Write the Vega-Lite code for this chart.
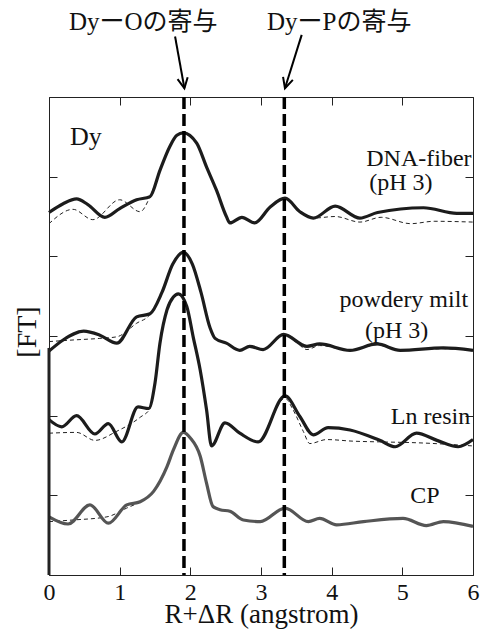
{
  "$schema": "https://vega.github.io/schema/vega-lite/v6.json",
  "width": 424,
  "height": 478,
  "autosize": "none",
  "padding": {"left": 49, "top": 97, "right": 13, "bottom": 56},
  "background": "white",
  "config": {
    "font": "Liberation Serif",
    "view": {"stroke": null},
    "axis": {
      "grid": false,
      "domainColor": "#222",
      "tickColor": "#222",
      "domainWidth": 1,
      "tickWidth": 1,
      "tickSize": -8,
      "labelFont": "Liberation Serif",
      "titleFont": "Liberation Serif",
      "labelColor": "#111",
      "titleColor": "#111",
      "titleFontWeight": "normal"
    }
  },
  "datasets": {
    "curves": [
      {"s": "DNA", "k": "exp", "x": 0.00, "y": 4.55},
      {"s": "DNA", "k": "exp", "x": 0.20, "y": 4.66},
      {"s": "DNA", "k": "exp", "x": 0.39, "y": 4.72},
      {"s": "DNA", "k": "exp", "x": 0.55, "y": 4.65},
      {"s": "DNA", "k": "exp", "x": 0.79, "y": 4.49},
      {"s": "DNA", "k": "exp", "x": 1.00, "y": 4.60},
      {"s": "DNA", "k": "exp", "x": 1.24, "y": 4.71},
      {"s": "DNA", "k": "exp", "x": 1.43, "y": 4.75},
      {"s": "DNA", "k": "exp", "x": 1.57, "y": 5.08},
      {"s": "DNA", "k": "exp", "x": 1.71, "y": 5.38},
      {"s": "DNA", "k": "exp", "x": 1.81, "y": 5.52},
      {"s": "DNA", "k": "exp", "x": 1.90, "y": 5.55},
      {"s": "DNA", "k": "exp", "x": 2.09, "y": 5.42},
      {"s": "DNA", "k": "exp", "x": 2.23, "y": 5.12},
      {"s": "DNA", "k": "exp", "x": 2.37, "y": 4.83},
      {"s": "DNA", "k": "exp", "x": 2.51, "y": 4.50},
      {"s": "DNA", "k": "exp", "x": 2.56, "y": 4.42},
      {"s": "DNA", "k": "exp", "x": 2.73, "y": 4.49},
      {"s": "DNA", "k": "exp", "x": 2.91, "y": 4.42},
      {"s": "DNA", "k": "exp", "x": 3.13, "y": 4.62},
      {"s": "DNA", "k": "exp", "x": 3.34, "y": 4.73},
      {"s": "DNA", "k": "exp", "x": 3.55, "y": 4.56},
      {"s": "DNA", "k": "exp", "x": 3.74, "y": 4.48},
      {"s": "DNA", "k": "exp", "x": 4.05, "y": 4.63},
      {"s": "DNA", "k": "exp", "x": 4.40, "y": 4.48},
      {"s": "DNA", "k": "exp", "x": 4.65, "y": 4.55},
      {"s": "DNA", "k": "exp", "x": 5.30, "y": 4.61},
      {"s": "DNA", "k": "exp", "x": 5.77, "y": 4.54},
      {"s": "DNA", "k": "exp", "x": 6.00, "y": 4.54},

      {"s": "DNA", "k": "fit", "x": 0.00, "y": 4.41},
      {"s": "DNA", "k": "fit", "x": 0.34, "y": 4.59},
      {"s": "DNA", "k": "fit", "x": 0.62, "y": 4.46},
      {"s": "DNA", "k": "fit", "x": 1.00, "y": 4.71},
      {"s": "DNA", "k": "fit", "x": 1.29, "y": 4.56},
      {"s": "DNA", "k": "fit", "x": 1.43, "y": 4.75},
      {"s": "DNA", "k": "fit", "x": 1.57, "y": 5.08},
      {"s": "DNA", "k": "fit", "x": 1.71, "y": 5.38},
      {"s": "DNA", "k": "fit", "x": 1.81, "y": 5.52},
      {"s": "DNA", "k": "fit", "x": 1.90, "y": 5.55},
      {"s": "DNA", "k": "fit", "x": 2.09, "y": 5.42},
      {"s": "DNA", "k": "fit", "x": 2.23, "y": 5.12},
      {"s": "DNA", "k": "fit", "x": 2.37, "y": 4.83},
      {"s": "DNA", "k": "fit", "x": 2.51, "y": 4.50},
      {"s": "DNA", "k": "fit", "x": 2.56, "y": 4.42},
      {"s": "DNA", "k": "fit", "x": 2.73, "y": 4.49},
      {"s": "DNA", "k": "fit", "x": 2.91, "y": 4.42},
      {"s": "DNA", "k": "fit", "x": 3.13, "y": 4.62},
      {"s": "DNA", "k": "fit", "x": 3.34, "y": 4.73},
      {"s": "DNA", "k": "fit", "x": 3.55, "y": 4.56},
      {"s": "DNA", "k": "fit", "x": 3.74, "y": 4.48},
      {"s": "DNA", "k": "fit", "x": 4.05, "y": 4.50},
      {"s": "DNA", "k": "fit", "x": 4.40, "y": 4.43},
      {"s": "DNA", "k": "fit", "x": 4.70, "y": 4.49},
      {"s": "DNA", "k": "fit", "x": 5.12, "y": 4.41},
      {"s": "DNA", "k": "fit", "x": 5.45, "y": 4.44},
      {"s": "DNA", "k": "fit", "x": 6.00, "y": 4.43},

      {"s": "PM", "k": "exp", "x": 0.00, "y": 2.81},
      {"s": "PM", "k": "exp", "x": 0.20, "y": 2.95},
      {"s": "PM", "k": "exp", "x": 0.49, "y": 3.06},
      {"s": "PM", "k": "exp", "x": 0.72, "y": 3.01},
      {"s": "PM", "k": "exp", "x": 0.96, "y": 2.91},
      {"s": "PM", "k": "exp", "x": 1.24, "y": 3.24},
      {"s": "PM", "k": "exp", "x": 1.43, "y": 3.28},
      {"s": "PM", "k": "exp", "x": 1.60, "y": 3.55},
      {"s": "PM", "k": "exp", "x": 1.75, "y": 3.90},
      {"s": "PM", "k": "exp", "x": 1.90, "y": 4.05},
      {"s": "PM", "k": "exp", "x": 2.03, "y": 3.90},
      {"s": "PM", "k": "exp", "x": 2.15, "y": 3.55},
      {"s": "PM", "k": "exp", "x": 2.28, "y": 3.10},
      {"s": "PM", "k": "exp", "x": 2.35, "y": 2.97},
      {"s": "PM", "k": "exp", "x": 2.51, "y": 2.91},
      {"s": "PM", "k": "exp", "x": 2.70, "y": 2.82},
      {"s": "PM", "k": "exp", "x": 2.84, "y": 2.87},
      {"s": "PM", "k": "exp", "x": 3.03, "y": 2.83},
      {"s": "PM", "k": "exp", "x": 3.32, "y": 3.02},
      {"s": "PM", "k": "exp", "x": 3.65, "y": 2.87},
      {"s": "PM", "k": "exp", "x": 3.83, "y": 2.90},
      {"s": "PM", "k": "exp", "x": 4.26, "y": 2.82},
      {"s": "PM", "k": "exp", "x": 4.64, "y": 2.90},
      {"s": "PM", "k": "exp", "x": 4.97, "y": 2.82},
      {"s": "PM", "k": "exp", "x": 5.58, "y": 2.85},
      {"s": "PM", "k": "exp", "x": 6.00, "y": 2.82},

      {"s": "PM", "k": "fit", "x": 0.00, "y": 2.93},
      {"s": "PM", "k": "fit", "x": 0.34, "y": 2.95},
      {"s": "PM", "k": "fit", "x": 0.72, "y": 2.97},
      {"s": "PM", "k": "fit", "x": 0.96, "y": 2.99},
      {"s": "PM", "k": "fit", "x": 1.24, "y": 3.16},
      {"s": "PM", "k": "fit", "x": 1.43, "y": 3.27},
      {"s": "PM", "k": "fit", "x": 1.60, "y": 3.55},
      {"s": "PM", "k": "fit", "x": 1.75, "y": 3.90},
      {"s": "PM", "k": "fit", "x": 1.90, "y": 4.05},
      {"s": "PM", "k": "fit", "x": 2.03, "y": 3.90},
      {"s": "PM", "k": "fit", "x": 2.15, "y": 3.55},
      {"s": "PM", "k": "fit", "x": 2.28, "y": 3.10},
      {"s": "PM", "k": "fit", "x": 2.35, "y": 2.97},
      {"s": "PM", "k": "fit", "x": 2.51, "y": 2.91},
      {"s": "PM", "k": "fit", "x": 2.70, "y": 2.82},
      {"s": "PM", "k": "fit", "x": 2.84, "y": 2.87},
      {"s": "PM", "k": "fit", "x": 3.03, "y": 2.83},
      {"s": "PM", "k": "fit", "x": 3.32, "y": 3.02},
      {"s": "PM", "k": "fit", "x": 3.50, "y": 2.92},
      {"s": "PM", "k": "fit", "x": 3.65, "y": 2.83},
      {"s": "PM", "k": "fit", "x": 3.83, "y": 2.88},
      {"s": "PM", "k": "fit", "x": 4.26, "y": 2.82},
      {"s": "PM", "k": "fit", "x": 4.64, "y": 2.89},
      {"s": "PM", "k": "fit", "x": 4.97, "y": 2.82},
      {"s": "PM", "k": "fit", "x": 5.58, "y": 2.84},
      {"s": "PM", "k": "fit", "x": 6.00, "y": 2.82},

      {"s": "Ln", "k": "exp", "x": 0.00, "y": 1.95},
      {"s": "Ln", "k": "exp", "x": 0.18, "y": 1.86},
      {"s": "Ln", "k": "exp", "x": 0.39, "y": 2.00},
      {"s": "Ln", "k": "exp", "x": 0.65, "y": 1.77},
      {"s": "Ln", "k": "exp", "x": 0.84, "y": 1.90},
      {"s": "Ln", "k": "exp", "x": 1.03, "y": 1.67},
      {"s": "Ln", "k": "exp", "x": 1.26, "y": 2.11},
      {"s": "Ln", "k": "exp", "x": 1.41, "y": 2.09},
      {"s": "Ln", "k": "exp", "x": 1.50, "y": 2.41},
      {"s": "Ln", "k": "exp", "x": 1.57, "y": 2.91},
      {"s": "Ln", "k": "exp", "x": 1.67, "y": 3.33},
      {"s": "Ln", "k": "exp", "x": 1.76, "y": 3.49},
      {"s": "Ln", "k": "exp", "x": 1.83, "y": 3.53},
      {"s": "Ln", "k": "exp", "x": 1.95, "y": 3.37},
      {"s": "Ln", "k": "exp", "x": 2.04, "y": 2.99},
      {"s": "Ln", "k": "exp", "x": 2.14, "y": 2.57},
      {"s": "Ln", "k": "exp", "x": 2.23, "y": 2.07},
      {"s": "Ln", "k": "exp", "x": 2.30, "y": 1.62},
      {"s": "Ln", "k": "exp", "x": 2.49, "y": 1.91},
      {"s": "Ln", "k": "exp", "x": 2.70, "y": 1.78},
      {"s": "Ln", "k": "exp", "x": 2.96, "y": 1.67},
      {"s": "Ln", "k": "exp", "x": 3.34, "y": 2.25},
      {"s": "Ln", "k": "exp", "x": 3.55, "y": 1.99},
      {"s": "Ln", "k": "exp", "x": 3.74, "y": 1.76},
      {"s": "Ln", "k": "exp", "x": 3.95, "y": 1.85},
      {"s": "Ln", "k": "exp", "x": 4.26, "y": 1.82},
      {"s": "Ln", "k": "exp", "x": 4.68, "y": 1.69},
      {"s": "Ln", "k": "exp", "x": 4.90, "y": 1.61},
      {"s": "Ln", "k": "exp", "x": 5.20, "y": 1.78},
      {"s": "Ln", "k": "exp", "x": 5.49, "y": 1.69},
      {"s": "Ln", "k": "exp", "x": 5.79, "y": 1.61},
      {"s": "Ln", "k": "exp", "x": 6.00, "y": 1.70},

      {"s": "Ln", "k": "fit", "x": 0.00, "y": 1.78},
      {"s": "Ln", "k": "fit", "x": 0.39, "y": 1.79},
      {"s": "Ln", "k": "fit", "x": 0.65, "y": 1.69},
      {"s": "Ln", "k": "fit", "x": 0.95, "y": 1.80},
      {"s": "Ln", "k": "fit", "x": 1.29, "y": 1.98},
      {"s": "Ln", "k": "fit", "x": 1.43, "y": 2.09},
      {"s": "Ln", "k": "fit", "x": 1.50, "y": 2.41},
      {"s": "Ln", "k": "fit", "x": 1.57, "y": 2.91},
      {"s": "Ln", "k": "fit", "x": 1.67, "y": 3.33},
      {"s": "Ln", "k": "fit", "x": 1.76, "y": 3.49},
      {"s": "Ln", "k": "fit", "x": 1.83, "y": 3.53},
      {"s": "Ln", "k": "fit", "x": 1.95, "y": 3.37},
      {"s": "Ln", "k": "fit", "x": 2.04, "y": 2.99},
      {"s": "Ln", "k": "fit", "x": 2.14, "y": 2.57},
      {"s": "Ln", "k": "fit", "x": 2.23, "y": 2.07},
      {"s": "Ln", "k": "fit", "x": 2.30, "y": 1.62},
      {"s": "Ln", "k": "fit", "x": 2.49, "y": 1.91},
      {"s": "Ln", "k": "fit", "x": 2.70, "y": 1.78},
      {"s": "Ln", "k": "fit", "x": 2.96, "y": 1.67},
      {"s": "Ln", "k": "fit", "x": 3.34, "y": 2.22},
      {"s": "Ln", "k": "fit", "x": 3.45, "y": 2.08},
      {"s": "Ln", "k": "fit", "x": 3.60, "y": 1.80},
      {"s": "Ln", "k": "fit", "x": 3.69, "y": 1.65},
      {"s": "Ln", "k": "fit", "x": 3.93, "y": 1.70},
      {"s": "Ln", "k": "fit", "x": 4.30, "y": 1.68},
      {"s": "Ln", "k": "fit", "x": 4.73, "y": 1.67},
      {"s": "Ln", "k": "fit", "x": 5.20, "y": 1.66},
      {"s": "Ln", "k": "fit", "x": 6.00, "y": 1.62},

      {"s": "CP", "k": "exp", "x": 0.00, "y": 0.73},
      {"s": "CP", "k": "exp", "x": 0.27, "y": 0.64},
      {"s": "CP", "k": "exp", "x": 0.58, "y": 0.88},
      {"s": "CP", "k": "exp", "x": 0.84, "y": 0.65},
      {"s": "CP", "k": "exp", "x": 1.10, "y": 0.88},
      {"s": "CP", "k": "exp", "x": 1.29, "y": 0.92},
      {"s": "CP", "k": "exp", "x": 1.48, "y": 1.05},
      {"s": "CP", "k": "exp", "x": 1.67, "y": 1.36},
      {"s": "CP", "k": "exp", "x": 1.76, "y": 1.57},
      {"s": "CP", "k": "exp", "x": 1.90, "y": 1.79},
      {"s": "CP", "k": "exp", "x": 2.00, "y": 1.72},
      {"s": "CP", "k": "exp", "x": 2.14, "y": 1.49},
      {"s": "CP", "k": "exp", "x": 2.23, "y": 1.15},
      {"s": "CP", "k": "exp", "x": 2.32, "y": 0.86},
      {"s": "CP", "k": "exp", "x": 2.42, "y": 0.82},
      {"s": "CP", "k": "exp", "x": 2.56, "y": 0.80},
      {"s": "CP", "k": "exp", "x": 2.75, "y": 0.69},
      {"s": "CP", "k": "exp", "x": 2.99, "y": 0.67},
      {"s": "CP", "k": "exp", "x": 3.34, "y": 0.84},
      {"s": "CP", "k": "exp", "x": 3.67, "y": 0.67},
      {"s": "CP", "k": "exp", "x": 3.83, "y": 0.71},
      {"s": "CP", "k": "exp", "x": 4.07, "y": 0.63},
      {"s": "CP", "k": "exp", "x": 4.45, "y": 0.67},
      {"s": "CP", "k": "exp", "x": 5.01, "y": 0.71},
      {"s": "CP", "k": "exp", "x": 5.34, "y": 0.62},
      {"s": "CP", "k": "exp", "x": 5.58, "y": 0.67},
      {"s": "CP", "k": "exp", "x": 6.00, "y": 0.61},

      {"s": "CP", "k": "fit", "x": 0.00, "y": 0.67},
      {"s": "CP", "k": "fit", "x": 0.33, "y": 0.69},
      {"s": "CP", "k": "fit", "x": 0.82, "y": 0.73},
      {"s": "CP", "k": "fit", "x": 1.10, "y": 0.84},
      {"s": "CP", "k": "fit", "x": 1.29, "y": 0.92},
      {"s": "CP", "k": "fit", "x": 1.48, "y": 1.05},
      {"s": "CP", "k": "fit", "x": 1.67, "y": 1.36},
      {"s": "CP", "k": "fit", "x": 1.76, "y": 1.57},
      {"s": "CP", "k": "fit", "x": 1.90, "y": 1.79},
      {"s": "CP", "k": "fit", "x": 2.00, "y": 1.72},
      {"s": "CP", "k": "fit", "x": 2.14, "y": 1.49},
      {"s": "CP", "k": "fit", "x": 2.23, "y": 1.15},
      {"s": "CP", "k": "fit", "x": 2.32, "y": 0.86},
      {"s": "CP", "k": "fit", "x": 2.42, "y": 0.82},
      {"s": "CP", "k": "fit", "x": 2.56, "y": 0.80},
      {"s": "CP", "k": "fit", "x": 2.75, "y": 0.69},
      {"s": "CP", "k": "fit", "x": 2.99, "y": 0.67},
      {"s": "CP", "k": "fit", "x": 3.34, "y": 0.84},
      {"s": "CP", "k": "fit", "x": 3.67, "y": 0.67},
      {"s": "CP", "k": "fit", "x": 3.83, "y": 0.71},
      {"s": "CP", "k": "fit", "x": 4.07, "y": 0.63},
      {"s": "CP", "k": "fit", "x": 4.45, "y": 0.67},
      {"s": "CP", "k": "fit", "x": 5.01, "y": 0.71},
      {"s": "CP", "k": "fit", "x": 5.34, "y": 0.62},
      {"s": "CP", "k": "fit", "x": 5.58, "y": 0.67},
      {"s": "CP", "k": "fit", "x": 6.00, "y": 0.61}
    ],
    "refs": [
      {"x": 1.91},
      {"x": 3.33}
    ],
    "arrows": [
      {"name": "O", "x": 1.784, "y": 6.76, "x2": 1.916, "y2": 6.11},
      {"name": "P", "x": 3.576, "y": 6.78, "x2": 3.339, "y2": 6.11}
    ],
    "labels": [
      {"g": "top", "label": "DyーOの寄与", "x": 1.334, "y": 6.84},
      {"g": "top", "label": "DyーPの寄与", "x": 4.106, "y": 6.84},
      {"g": "right", "label": "DNA-fiber", "x": 5.98, "y": 5.13},
      {"g": "center", "label": "(pH 3)", "x": 4.98, "y": 4.83},
      {"g": "right", "label": "powdery milt", "x": 5.93, "y": 3.37},
      {"g": "center", "label": "(pH 3)", "x": 4.92, "y": 2.97},
      {"g": "right", "label": "Ln resin", "x": 5.96, "y": 1.895},
      {"g": "center", "label": "CP", "x": 5.32, "y": 0.90},
      {"g": "left", "label": "Dy", "x": 0.297, "y": 5.40}
    ]
  },
  "layer": [
    {
      "data": {"name": "curves"},
      "transform": [{"filter": "datum.k === 'fit'"}],
      "mark": {"type": "line", "strokeWidth": 1, "strokeDash": [4, 3], "color": "#222", "interpolate": "monotone"},
      "encoding": {
        "x": {"field": "x", "type": "quantitative", "scale": {"domain": [0, 6], "nice": false, "zero": false},
              "axis": {"orient": "bottom", "values": [0, 1, 2, 3, 4, 5, 6], "labelFontSize": 24, "labelPadding": 13, "labelFlush": false,
                       "title": "R+ΔR (angstrom)", "titleFontSize": 27, "titleY": 47, "titleBaseline": "alphabetic"}},
        "y": {"field": "y", "type": "quantitative", "scale": {"domain": [0, 6], "nice": false, "zero": false},
              "axis": {"orient": "left", "values": [0, 1, 2, 3, 4, 5, 6], "labels": false,
                       "title": "[FT]", "titleFontSize": 28, "titleX": -21.5, "titleY": 234.5, "titleAngle": -90, "titleAlign": "center", "titleBaseline": "middle"}},
        "detail": {"field": "s"}
      }
    },
    {
      "data": {"name": "curves"},
      "transform": [{"filter": "datum.k === 'exp'"}],
      "mark": {"type": "line", "strokeWidth": 3.2, "interpolate": "monotone", "strokeJoin": "round"},
      "encoding": {
        "x": {"field": "x", "type": "quantitative", "scale": {"domain": [0, 6], "nice": false, "zero": false},
              "axis": {"orient": "top", "values": [0, 1, 2, 3, 4, 5, 6], "labels": false, "title": null}},
        "y": {"field": "y", "type": "quantitative", "scale": {"domain": [0, 6], "nice": false, "zero": false},
              "axis": {"orient": "right", "values": [0, 1, 2, 3, 4, 5, 6], "labels": false, "title": null}},
        "color": {"field": "s", "type": "nominal", "scale": {"domain": ["DNA", "PM", "Ln", "CP"], "range": ["#1c1c1c", "#1c1c1c", "#1c1c1c", "#555555"]}, "legend": null}
      }
    },
    {
      "data": {"values": [{"x": 0, "y": 0, "y2": 2.85}]},
      "mark": {"type": "rule", "strokeWidth": 3, "color": "#222"},
      "encoding": {
        "x": {"field": "x", "type": "quantitative", "scale": {"domain": [0, 6], "nice": false, "zero": false}, "axis": null},
        "y": {"field": "y", "type": "quantitative", "scale": {"domain": [0, 6], "nice": false, "zero": false}, "axis": null},
        "y2": {"field": "y2"}
      }
    },
    {
      "data": {"name": "refs"},
      "mark": {"type": "rule", "strokeWidth": 3.5, "strokeDash": [12, 5], "color": "#000"},
      "encoding": {
        "x": {"field": "x", "type": "quantitative", "scale": {"domain": [0, 6], "nice": false, "zero": false}, "axis": null}
      }
    },
    {
      "data": {"name": "arrows"},
      "mark": {"type": "rule", "strokeWidth": 2, "color": "#000"},
      "encoding": {
        "x": {"field": "x", "type": "quantitative", "scale": {"domain": [0, 6], "nice": false, "zero": false}, "axis": null},
        "y": {"field": "y", "type": "quantitative", "scale": {"domain": [0, 6], "nice": false, "zero": false}, "axis": null},
        "x2": {"field": "x2"},
        "y2": {"field": "y2"}
      }
    },
    {
      "data": {"name": "arrows"},
      "transform": [{"filter": "datum.name === 'O'"}],
      "mark": {"type": "point", "shape": "M-0.5,-1L0,0L0.5,-1", "filled": false, "stroke": "#000", "strokeWidth": 2, "size": 420, "angle": -10, "opacity": 1},
      "encoding": {
        "x": {"field": "x2", "type": "quantitative", "scale": {"domain": [0, 6], "nice": false, "zero": false}, "axis": null},
        "y": {"field": "y2", "type": "quantitative", "scale": {"domain": [0, 6], "nice": false, "zero": false}, "axis": null}
      }
    },
    {
      "data": {"name": "arrows"},
      "transform": [{"filter": "datum.name === 'P'"}],
      "mark": {"type": "point", "shape": "M-0.5,-1L0,0L0.5,-1", "filled": false, "stroke": "#000", "strokeWidth": 2, "size": 420, "angle": 17, "opacity": 1},
      "encoding": {
        "x": {"field": "x2", "type": "quantitative", "scale": {"domain": [0, 6], "nice": false, "zero": false}, "axis": null},
        "y": {"field": "y2", "type": "quantitative", "scale": {"domain": [0, 6], "nice": false, "zero": false}, "axis": null}
      }
    },
    {
      "data": {"name": "labels"},
      "transform": [{"filter": "datum.g === 'top'"}],
      "mark": {"type": "text", "font": "Liberation Serif, Noto Sans CJK JP", "fontSize": 25, "align": "center", "baseline": "alphabetic", "color": "#111"},
      "encoding": {
        "x": {"field": "x", "type": "quantitative", "scale": {"domain": [0, 6], "nice": false, "zero": false}, "axis": null},
        "y": {"field": "y", "type": "quantitative", "scale": {"domain": [0, 6], "nice": false, "zero": false}, "axis": null},
        "text": {"field": "label"}
      }
    },
    {
      "data": {"name": "labels"},
      "transform": [{"filter": "datum.g === 'right'"}],
      "mark": {"type": "text", "font": "Liberation Serif", "fontSize": 24, "align": "right", "baseline": "alphabetic", "color": "#111"},
      "encoding": {
        "x": {"field": "x", "type": "quantitative", "scale": {"domain": [0, 6], "nice": false, "zero": false}, "axis": null},
        "y": {"field": "y", "type": "quantitative", "scale": {"domain": [0, 6], "nice": false, "zero": false}, "axis": null},
        "text": {"field": "label"}
      }
    },
    {
      "data": {"name": "labels"},
      "transform": [{"filter": "datum.g === 'center'"}],
      "mark": {"type": "text", "font": "Liberation Serif", "fontSize": 24, "align": "center", "baseline": "alphabetic", "color": "#111"},
      "encoding": {
        "x": {"field": "x", "type": "quantitative", "scale": {"domain": [0, 6], "nice": false, "zero": false}, "axis": null},
        "y": {"field": "y", "type": "quantitative", "scale": {"domain": [0, 6], "nice": false, "zero": false}, "axis": null},
        "text": {"field": "label"}
      }
    },
    {
      "data": {"name": "labels"},
      "transform": [{"filter": "datum.g === 'left'"}],
      "mark": {"type": "text", "font": "Liberation Serif", "fontSize": 26, "align": "left", "baseline": "alphabetic", "color": "#111"},
      "encoding": {
        "x": {"field": "x", "type": "quantitative", "scale": {"domain": [0, 6], "nice": false, "zero": false}, "axis": null},
        "y": {"field": "y", "type": "quantitative", "scale": {"domain": [0, 6], "nice": false, "zero": false}, "axis": null},
        "text": {"field": "label"}
      }
    }
  ],
  "resolve": {"axis": {"x": "independent", "y": "independent"}}
}
